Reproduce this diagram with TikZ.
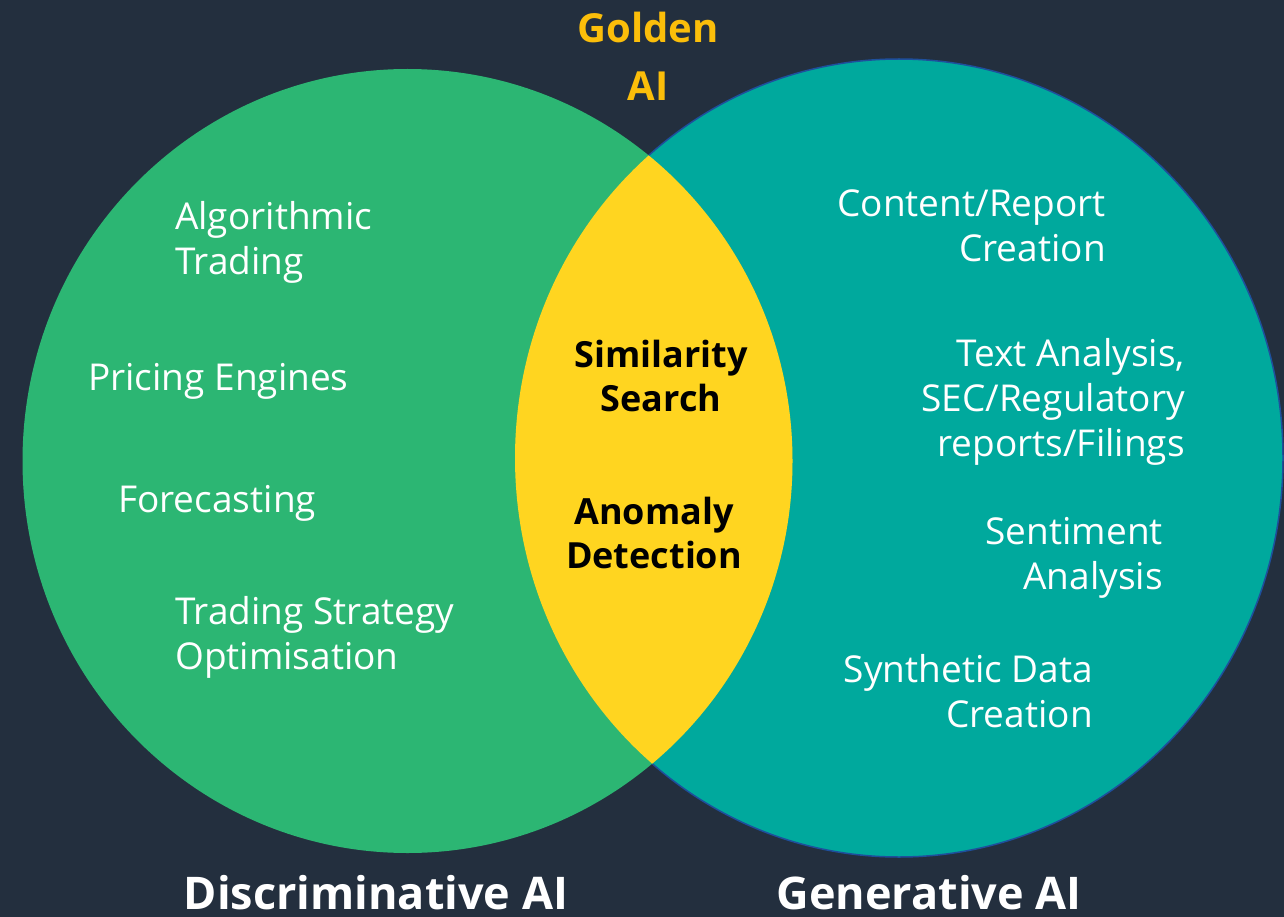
\documentclass[tikz,border=0pt]{standalone}
\usepackage{fontspec}
\setmainfont{Open Sans}
\definecolor{bgdark}{HTML}{232F3E}
\definecolor{discgreen}{HTML}{2CB673}
\definecolor{genteal}{HTML}{00A99D}
\definecolor{lensyellow}{HTML}{FFD520}
\definecolor{goldtext}{HTML}{FBBE0A}
\definecolor{rimblue}{HTML}{1E4F9C}
\begin{document}
\begin{tikzpicture}[x=1pt,y=-1pt,
  item/.style={text=white,inner sep=0pt,font=\fontsize{37}{45}\selectfont},
  lensitem/.style={text=black,inner sep=0pt,align=center,font=\fontsize{36}{44}\selectfont\bfseries},
  setname/.style={text=white,inner sep=0pt,font=\fontsize{45}{54}\selectfont\bfseries}]
  \fill[bgdark] (0,0) rectangle (1284,917);
  \useasboundingbox (0,0) rectangle (1284,917);
  % the two sets
  \fill[genteal,draw=rimblue,line width=1.5pt] (899,458) ellipse [x radius=384, y radius=399];
  \fill[discgreen] (407.5,461) ellipse [x radius=385, y radius=392];
  % their overlap
  \begin{scope}
    \clip (407.5,461) ellipse [x radius=385, y radius=392];
    \fill[lensyellow] (899,458) ellipse [x radius=384, y radius=399];
  \end{scope}
  % heading of the overlap
  \node[inner sep=0pt,text=goldtext,align=center,
        font=\fontsize{40}{58}\selectfont\bfseries] (golden) at (648,56) {Golden\\AI};
  % discriminative side
  \node[item,anchor=west,align=left] (algo) at (175,242) {Algorithmic\\Trading};
  \node[item,anchor=west] (pricing) at (88,381) {Pricing Engines};
  \node[item,anchor=west] (forecast) at (118,503) {Forecasting};
  \node[item,anchor=west,align=left] (strategy) at (175,637) {Trading Strategy\\Optimisation};
  % generative side
  \node[item,anchor=east,align=right] (content) at (1106,226) {Content/Report\\Creation};
  \node[item,anchor=east,align=right] (textan) at (1185,402) {Text Analysis,\\SEC/Regulatory\\reports/Filings};
  \node[item,anchor=east,align=right] (sentiment) at (1163,558) {Sentiment\\Analysis};
  \node[item,anchor=east,align=right] (synthetic) at (1093,691) {Synthetic Data\\Creation};
  % shared uses
  \node[lensitem] (similarity) at (661,376) {Similarity\\Search};
  \node[lensitem] (anomaly) at (654,533) {Anomaly\\Detection};
  % set names
  \node[setname] (disc) at (376,893) {Discriminative AI};
  \node[setname] (gen) at (929,893) {Generative AI};
\end{tikzpicture}
\end{document}
